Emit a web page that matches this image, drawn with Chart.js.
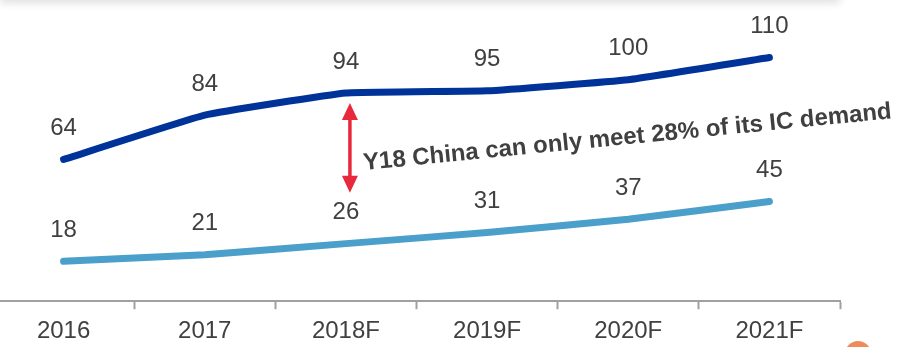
<!DOCTYPE html>
<html>
<head>
<meta charset="utf-8">
<script src="https://cdn.jsdelivr.net/npm/chart.js@4.4.1/dist/chart.umd.min.js"></script>
<style>
    html, body { margin: 0; padding: 0; background: #fff; overflow: hidden; }
    #wrap { position: absolute; left: -7px; top: 0; width: 911px; height: 355px; }
    #shade { position: absolute; left: 0; top: -20px; width: 840px; height: 20px; box-shadow: 0 3px 9px rgba(0, 0, 0, 0.13); }
    #logo { position: absolute; left: 845px; top: 341px; width: 26px; height: 26px; border-radius: 50%; background: #f08a5a; }
</style>
</head>
<body>
<div id="wrap"><canvas id="myChart"></canvas></div>
<div id="shade"></div>
<div id="logo"></div>
<script>
const years = ['2016', '2017', '2018F', '2019F', '2020F', '2021F'];
const demand = [64, 84, 94, 95, 100, 110];
const production = [18, 21, 26, 31, 37, 45];
const noteText = 'Y18 China can only meet 28% of its IC demand';

const textColor = '#404040';

// Подписи значений над точками
const valueLabels = {
    id: 'valueLabels',
    afterDatasetsDraw(chart) {
        const c = chart.ctx;
        c.save();
        c.font = '24px "Liberation Sans", Arial, sans-serif';
        c.fillStyle = textColor;
        c.textAlign = 'center';
        c.textBaseline = 'middle';
        chart.data.datasets.forEach((ds, i) => {
            chart.getDatasetMeta(i).data.forEach((pt, j) => {
                c.fillText(ds.data[j], pt.x, pt.y - 31);
            });
        });
        c.restore();
    }
};

// Красная стрелка и наклонная подпись
const gapNote = {
    id: 'gapNote',
    afterDatasetsDraw(chart) {
        const c = chart.ctx;
        const x = chart.scales.x.getPixelForValue(2) + 4;
        const top = chart.getDatasetMeta(0).data[2].y + 10;
        const bottom = chart.scales.y.getPixelForValue(49);
        c.save();
        c.fillStyle = '#e8283c';
        c.strokeStyle = '#e8283c';
        c.lineWidth = 3.5;
        c.beginPath();
        c.moveTo(x, top + 12);
        c.lineTo(x, bottom - 12);
        c.stroke();
        c.beginPath();
        c.moveTo(x, top);
        c.lineTo(x - 8, top + 17);
        c.lineTo(x + 8, top + 17);
        c.closePath();
        c.fill();
        c.beginPath();
        c.moveTo(x, bottom);
        c.lineTo(x - 8, bottom - 17);
        c.lineTo(x + 8, bottom - 17);
        c.closePath();
        c.fill();

        c.translate(x + 14, top + 67);
        c.rotate(-5.6 * Math.PI / 180);
        c.font = 'bold 24px "Liberation Sans", Arial, sans-serif';
        c.fillStyle = textColor;
        c.textAlign = 'left';
        c.textBaseline = 'alphabetic';
        c.fillText(noteText, 0, 0);
        c.restore();
    }
};

const ctx = document.getElementById('myChart').getContext('2d');

const myChart = new Chart(ctx, {
    type: 'line',
    data: {
        labels: years,
        datasets: [{
            label: 'Demand',
            data: demand,
            borderColor: '#003399',
            borderWidth: 7,
            borderCapStyle: 'round',
            tension: 0.1,
            pointRadius: 0
        }, {
            label: 'Production',
            data: production,
            borderColor: '#4a9fcb',
            borderWidth: 7,
            borderCapStyle: 'round',
            tension: 0.1,
            pointRadius: 0
        }]
    },
    options: {
        responsive: true,
        maintainAspectRatio: false,
        animation: false,
        layout: {
            padding: { left: 0, right: 64, top: 0, bottom: 1 }
        },
        plugins: {
            legend: { display: false },
            tooltip: { enabled: false }
        },
        scales: {
            x: {
                offset: true,
                grid: {
                    offset: true,
                    drawOnChartArea: false,
                    drawTicks: true,
                    tickLength: 8,
                    tickWidth: 2,
                    tickColor: '#a0a0a0'
                },
                border: {
                    display: true,
                    color: '#a0a0a0',
                    width: 2
                },
                ticks: {
                    color: textColor,
                    padding: 8,
                    font: {
                        family: '"Liberation Sans", Arial, sans-serif',
                        size: 24
                    }
                }
            },
            y: {
                display: false,
                min: 0,
                max: 136
            }
        }
    },
    plugins: [valueLabels, gapNote]
});
</script>
</body>
</html>
